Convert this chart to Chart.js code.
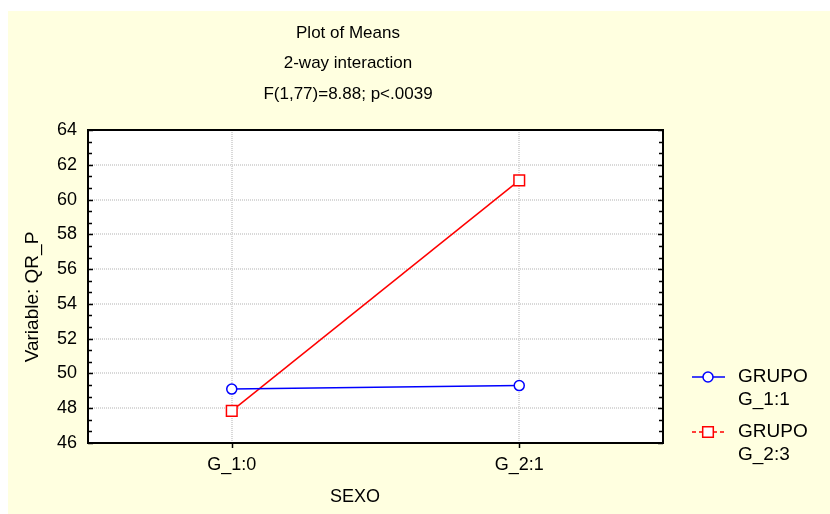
<!DOCTYPE html>
<html>
<head>
<meta charset="utf-8">
<script src="https://cdn.jsdelivr.net/npm/chart.js@4.4.1/dist/chart.umd.min.js"></script>
<style>
  html, body { margin: 0; padding: 0; background: #fff; }
  #wrap { width: 830px; height: 514px; }
</style>
</head>
<body>
<div id="wrap"><canvas id="chart"></canvas></div>
<script>
const sexo = ['G_1:0', 'G_2:1'];
const grupo1 = [49.1, 49.3];
const grupo2 = [47.85, 61.1];
const seriesNames = [['GRUPO', 'G_1:1'], ['GRUPO', 'G_2:3']];
const titleLines = ['Plot of Means', '2-way interaction', 'F(1,77)=8.88; p<.0039'];
const xTitle = 'SEXO';
const yTitle = 'Variable: QR_P';
const yTicks = [46, 48, 50, 52, 54, 56, 58, 60, 62, 64];

const FONT = '"Liberation Sans", Arial, sans-serif';

const decor = {
    id: 'decor',
    beforeDraw(chart) {
        const ctx = chart.ctx;
        const a = chart.chartArea;
        ctx.save();
        ctx.fillStyle = '#ffffe0';
        ctx.fillRect(8, 11, chart.width - 8, chart.height - 11);
        ctx.fillStyle = '#ffffff';
        ctx.fillRect(a.left, a.top, a.right - a.left, a.bottom - a.top);
        ctx.restore();
    },
    afterDraw(chart) {
        const ctx = chart.ctx;
        const a = chart.chartArea;
        const y = chart.scales.y;
        const x = chart.scales.x;
        ctx.save();

        // minor ticks on left and right edges
        ctx.strokeStyle = '#000';
        ctx.lineWidth = 1.5;
        y.ticks.forEach(t => {
            for (let k = 0; k < 3; k++) {
                const v = t.value + k * 2 / 3;
                if (v > y.max) continue;
                const py = Math.round(y.getPixelForValue(v)) + 0.5;
                const len = k === 0 ? 5 : 4;
                ctx.beginPath();
                ctx.moveTo(a.left, py); ctx.lineTo(a.left + len, py);
                ctx.moveTo(a.right, py); ctx.lineTo(a.right - len, py);
                ctx.stroke();
            }
        });
        // category ticks below the axis
        x.ticks.forEach((t, i) => {
            const px = Math.round(x.getPixelForTick(i)) + 0.5;
            ctx.beginPath();
            ctx.moveTo(px, a.bottom); ctx.lineTo(px, a.bottom + 5);
            ctx.stroke();
        });

        // frame
        ctx.lineWidth = 2;
        ctx.strokeRect(a.left, a.top, a.right - a.left, a.bottom - a.top);

        // title
        ctx.fillStyle = '#000';
        ctx.font = '17px ' + FONT;
        ctx.textAlign = 'center';
        ctx.textBaseline = 'middle';
        titleLines.forEach((line, i) => ctx.fillText(line, 348, 33 + i * 30.5));

        // axis titles
        ctx.font = '18px ' + FONT;
        ctx.fillText(xTitle, 355, 497);
        ctx.save();
        ctx.translate(33, 297);
        ctx.rotate(-Math.PI / 2);
        ctx.font = '19px ' + FONT;
        ctx.fillText(yTitle, 0, 0);
        ctx.restore();

        // legend
        chart.data.datasets.forEach((ds, i) => {
            const ly = 377 + i * 55;
            ctx.strokeStyle = ds.borderColor;
            ctx.lineWidth = 1.5;
            ctx.setLineDash(ds.legendDash || []);
            ctx.beginPath();
            ctx.moveTo(692, ly); ctx.lineTo(725, ly);
            ctx.stroke();
            ctx.setLineDash([]);
            ctx.fillStyle = '#fff';
            ctx.lineWidth = ds.pointBorderWidth;
            Chart.helpers.drawPoint(ctx, {
                pointStyle: ds.pointStyle,
                radius: ds.pointRadius,
                borderWidth: ds.pointBorderWidth
            }, 708, ly);
            ctx.fillStyle = '#000';
            ctx.font = '19px ' + FONT;
            ctx.textAlign = 'left';
            seriesNames[i].forEach((s, j) => ctx.fillText(s, 738, ly + j * 23));
        });
        ctx.restore();
    }
};

new Chart(document.getElementById('chart'), {
    type: 'line',
    data: {
        labels: sexo,
        datasets: [{
            label: seriesNames[0].join(' '),
            data: grupo1,
            borderColor: '#0000ff',
            borderWidth: 1.5,
            pointStyle: 'circle',
            pointRadius: 5,
            pointBorderWidth: 1.5,
            pointBackgroundColor: '#ffffff',
            pointBorderColor: '#0000ff',
            tension: 0
        }, {
            label: seriesNames[1].join(' '),
            data: grupo2,
            borderColor: '#ff0000',
            borderWidth: 1.5,
            pointStyle: 'rect',
            pointRadius: 7.5,
            pointBorderWidth: 1.5,
            pointBackgroundColor: '#ffffff',
            pointBorderColor: '#ff0000',
            legendDash: [4, 3],
            tension: 0
        }]
    },
    options: {
        responsive: true,
        maintainAspectRatio: false,
        animation: false,
        layout: { padding: { left: 0, top: 130, right: 167, bottom: 0 } },
        plugins: {
            legend: { display: false },
            title: { display: false },
            tooltip: { enabled: false }
        },
        scales: {
            x: {
                offset: true,
                afterFit: s => { s.height = 71; },
                grid: { color: '#d8d8d8', lineWidth: 2, drawTicks: false, offset: false },
                border: { display: false, dash: [1, 1] },
                ticks: { color: '#000', padding: 11, font: { family: FONT, size: 18 } }
            },
            y: {
                min: 46,
                max: 64,
                afterFit: s => { s.width = 88; },
                afterBuildTicks: s => { s.ticks = yTicks.map(v => ({ value: v })); },
                grid: {
                    color: c => (c.tick && (c.tick.value === 46 || c.tick.value === 64)) ? 'rgba(0,0,0,0)' : '#d8d8d8',
                    lineWidth: 2,
                    drawTicks: false
                },
                border: { display: false, dash: [1, 1] },
                ticks: { color: '#000', padding: 11, font: { family: FONT, size: 18 } }
            }
        }
    },
    plugins: [decor]
});
</script>
</body>
</html>
